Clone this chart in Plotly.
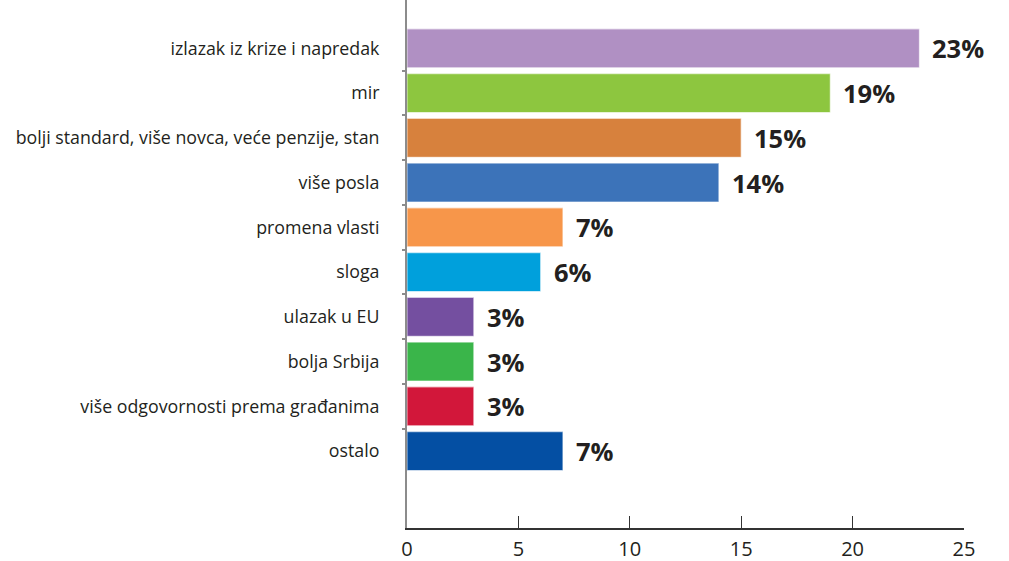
import plotly.graph_objects as go

categories = [
    "izlazak iz krize i napredak",
    "mir",
    "bolji standard, više novca, veće penzije, stan",
    "više posla",
    "promena vlasti",
    "sloga",
    "ulazak u EU",
    "bolja Srbija",
    "više odgovornosti prema građanima",
    "ostalo",
]
values = [23, 19, 15, 14, 7, 6, 3, 3, 3, 7]
value_labels = ["23%", "19%", "15%", "14%", "7%", "6%", "3%", "3%", "3%", "7%"]
colors = ["#B090C3", "#8DC63F", "#D7813D", "#3C73B9", "#F7964A",
          "#00A0DC", "#744FA0", "#3AB54A", "#D2173A", "#044FA3"]
x_ticks = [0, 5, 10, 15, 20, 25]

positions = list(range(len(categories)))
boundaries = [p + 0.5 for p in positions[:-1]]

fig = go.Figure()
fig.add_trace(go.Bar(
    x=values,
    y=positions,
    orientation="h",
    width=0.87,
    marker=dict(color=colors, line=dict(color="rgba(255,255,255,0.6)", width=1.2)),
    hoverinfo="x+y",
))

for v, p, lab in zip(values, positions, value_labels):
    fig.add_annotation(
        x=v, y=p, text=lab, showarrow=False,
        xanchor="left", yanchor="middle", xshift=11, yshift=0,
        font=dict(family="Open Sans", size=25.5, color="#231F20", weight="bold"),
    )

fig.update_layout(
    width=1009,
    height=561,
    margin=dict(l=407, r=45, t=0, b=33, autoexpand=False),
    paper_bgcolor="white",
    plot_bgcolor="white",
    showlegend=False,
)

fig.update_xaxes(
    range=[0, 25],
    tickvals=x_ticks,
    ticktext=[str(t) for t in x_ticks],
    ticks="inside",
    ticklen=12,
    tickwidth=1.2,
    tickcolor="#333333",
    showline=True,
    linecolor="#333333",
    linewidth=1.5,
    showgrid=False,
    zeroline=False,
    automargin=False,
    tickfont=dict(family="Open Sans", size=20, color="#231F20"),
    ticklabelstandoff=2,
)

fig.update_yaxes(
    range=[10.72, -1.08],
    tickvals=positions,
    ticktext=categories,
    ticks="",
    showline=True,
    linecolor="#8C8C8C",
    linewidth=2,
    showgrid=False,
    zeroline=False,
    automargin=False,
    tickfont=dict(family="Open Sans", size=17.8, color="#231F20"),
    ticklabelstandoff=22,
    minor=dict(tickvals=boundaries, ticks="outside", ticklen=3, tickcolor="#8C8C8C", tickwidth=2),
)

fig.write_html(
    "out.html",
    config={"displayModeBar": False},
    post_script="document.body.style.margin='0';document.body.style.overflow='hidden';",
)
